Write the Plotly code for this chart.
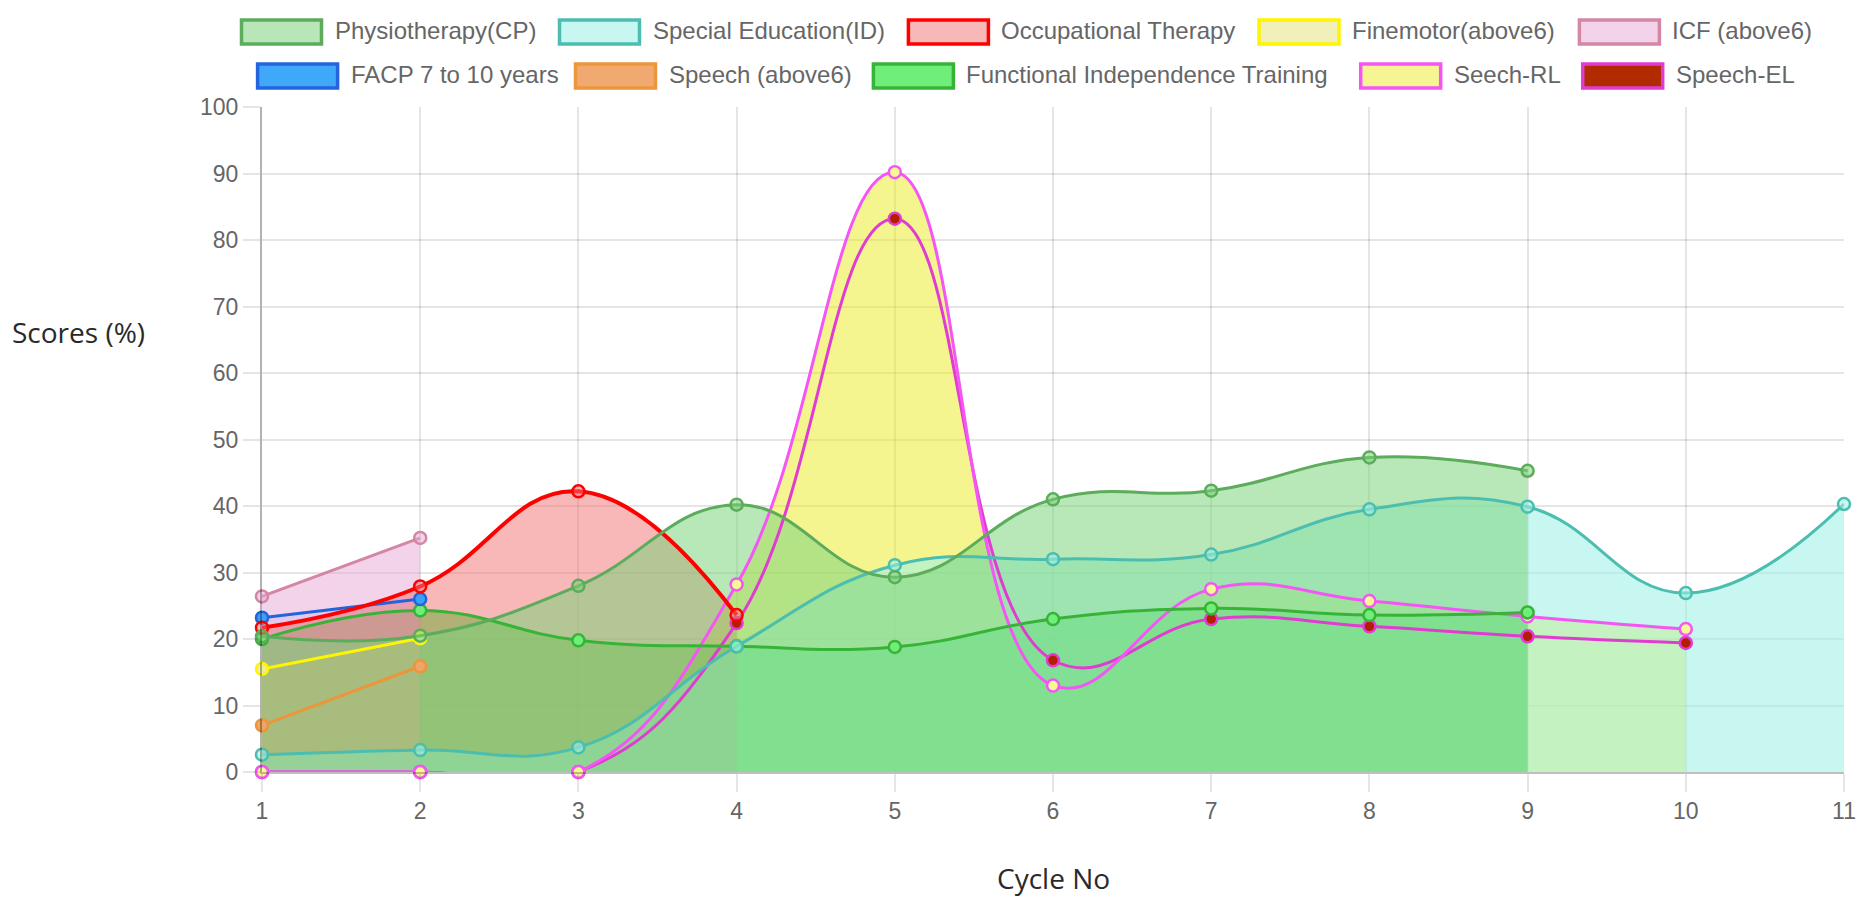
import plotly.graph_objects as go

# ---------------- data ----------------
cycles = [1, 2, 3, 4, 5, 6, 7, 8, 9, 10, 11]
physio = [20.4, 20.5, 28.0, 40.2, 29.3, 41.0, 42.3, 47.3, 45.3]
special_ed = [2.6, 3.3, 3.7, 18.9, 31.1, 32.0, 32.7, 39.5, 39.9, 26.9, 40.3]
occupational = [21.7, 27.9, 42.2, 23.6]
finemotor = [15.5, 20.1]
icf = [26.4, 35.2]
facp = [23.2, 26.0]
speech = [7.0, 15.9]
fit = [20.0, 24.3, 19.8, 18.9, 18.8, 23.0, 24.6, 23.6, 24.0]
seech_rl = [0, 0, 0, 28.2, 90.2, 13.0, 27.5, 25.7, 23.4, 21.5]
speech_el = [0, 0, 0, 22.4, 83.2, 16.8, 23.0, 21.9, 20.4, 19.4]

labels = ["Physiotherapy(CP)", "Special Education(ID)", "Occupational Therapy",
          "Finemotor(above6)", "ICF (above6)", "FACP 7 to 10 years", "Speech (above6)",
          "Functional Independence Training", "Seech-RL", "Speech-EL"]
values = [physio, special_ed, occupational, finemotor, icf, facp, speech, fit, seech_rl, speech_el]

# style per series
line_col = ["rgb(92,172,92)", "rgb(75,190,175)", "rgb(255,0,0)", "rgb(255,245,0)",
            "rgb(212,135,165)", "rgb(35,100,220)", "rgb(236,150,60)", "rgb(55,180,55)",
            "rgb(245,85,245)", "rgb(225,60,210)"]
fill_col = ["rgba(120,211,120,0.53)", "rgba(159,239,229,0.57)", "rgba(241,113,113,0.5)",
            "rgba(225,225,113,0.5)", "rgba(231,167,213,0.5)", "rgba(60,150,250,0.2)", None,
            "rgba(51,231,64,0.7)", "rgba(235,235,33,0.5)", None]
point_col = ["rgba(120,211,120,0.53)", "rgba(159,239,229,0.57)", "rgba(241,113,113,0.5)",
             "rgba(240,240,150,0.9)", "rgba(231,167,213,0.5)", "rgb(58,160,248)",
             "rgb(240,165,100)", "rgb(112,238,122)", "rgb(248,248,150)", "rgb(180,30,0)"]
box_col = ["#b8e6b8", "#c8f6f0", "#f8b8b8", "#f0f0b8", "#f3d3ea",
           "#40a8f8", "#f0aa70", "#70ee7a", "#f5f594", "#b22a00"]
line_w = [3, 3, 4, 3, 3, 3, 3, 3, 3, 3]

W, H = 1869, 898
ML, MR, MT, MB = 262, 25, 107, 126
PW, PH = W - ML - MR, H - MT - MB

def px(x):
    return (x - ML) / PW

def py(y):
    return (H - MB - y) / PH

fig = go.Figure()
SMOOTH = 1.25

# fills first (reverse order, first series on top)
for i in reversed(range(len(labels))):
    if fill_col[i] is None:
        continue
    fig.add_trace(go.Scatter(
        x=cycles[:len(values[i])], y=values[i], mode="lines",
        line=dict(shape="spline", smoothing=SMOOTH, width=0, color="rgba(0,0,0,0)"),
        fill="tozeroy", fillcolor=fill_col[i], showlegend=False, hoverinfo="skip"))

# lines + points (reverse order, first series on top)
for i in reversed(range(len(labels))):
    fig.add_trace(go.Scatter(
        x=cycles[:len(values[i])], y=values[i], mode="lines+markers", name=labels[i],
        line=dict(shape="spline", smoothing=SMOOTH, width=line_w[i], color=line_col[i]),
        marker=dict(size=12, color=point_col[i], line=dict(width=2.5, color=line_col[i])),
        cliponaxis=False, showlegend=False))

# ---------------- legend (Chart.js style, drawn manually) ----------------
FS = 24
BOXW, BOXH = 80, 24
# left edge of each legend box (px), two centred rows as in the reference
leg_box_x = [241.5, 559.5, 908.4, 1259.0, 1579.4,
             257.6, 575.5, 873.4, 1360.7, 1582.7]
leg_row_top = [20] * 5 + [64] * 5

shapes = []
annotations = []
for i in range(len(labels)):
    x, y0 = leg_box_x[i], leg_row_top[i]
    shapes.append(dict(type="rect", xref="paper", yref="paper",
                       x0=px(x), x1=px(x + BOXW), y0=py(y0 + BOXH), y1=py(y0),
                       fillcolor=box_col[i], line=dict(color=line_col[i], width=3.5)))
    annotations.append(dict(xref="paper", yref="paper", x=px(x + BOXW + FS / 2 - 1),
                            y=py(y0 + BOXH / 2 - 1), xanchor="left", yanchor="middle",
                            text=labels[i], showarrow=False,
                            font=dict(family="Arial, Liberation Sans", size=FS, color="#666")))

# axis titles
annotations.append(dict(xref="paper", yref="paper", x=px(10), y=py(332), xanchor="left",
                        yanchor="middle", text="Scores (%)", showarrow=False,
                        font=dict(family="Open Sans", size=28, color="#2a2a2a")))
annotations.append(dict(xref="paper", yref="paper", x=0.5, y=py(878), xanchor="center",
                        yanchor="middle", text="Cycle No", showarrow=False,
                        font=dict(family="Open Sans", size=28, color="#2a2a2a")))

tickfont = dict(family="Arial, Liberation Sans", size=23, color="#666")
fig.update_layout(
    width=W, height=H, margin=dict(l=ML, r=MR, t=MT, b=MB),
    paper_bgcolor="white", plot_bgcolor="white",
    shapes=shapes, annotations=annotations, showlegend=False,
    xaxis=dict(range=[1, 11], tickmode="array", tickvals=cycles, ticktext=[str(c) for c in cycles],
               showgrid=True, gridcolor="rgba(0,0,0,0.1)", gridwidth=1.5,
               showline=True, linecolor="rgba(0,0,0,0.25)", linewidth=1.5,
               ticks="outside", ticklen=18, tickcolor="rgba(0,0,0,0.1)", tickwidth=1.5,
               tickfont=tickfont, zeroline=False, fixedrange=True),
    yaxis=dict(range=[0, 100], tickmode="linear", tick0=0, dtick=10,
               showgrid=True, gridcolor="rgba(0,0,0,0.1)", gridwidth=1.5,
               showline=True, linecolor="rgba(0,0,0,0.3)", linewidth=2,
               ticks="outside", ticklen=17, tickcolor="rgba(0,0,0,0.1)", tickwidth=1.5,
               tickfont=tickfont, zeroline=False, fixedrange=True),
)

fig.write_html("out.html", config={"displayModeBar": False},
               post_script="document.body.style.margin='0px';document.body.style.overflow='hidden';")
